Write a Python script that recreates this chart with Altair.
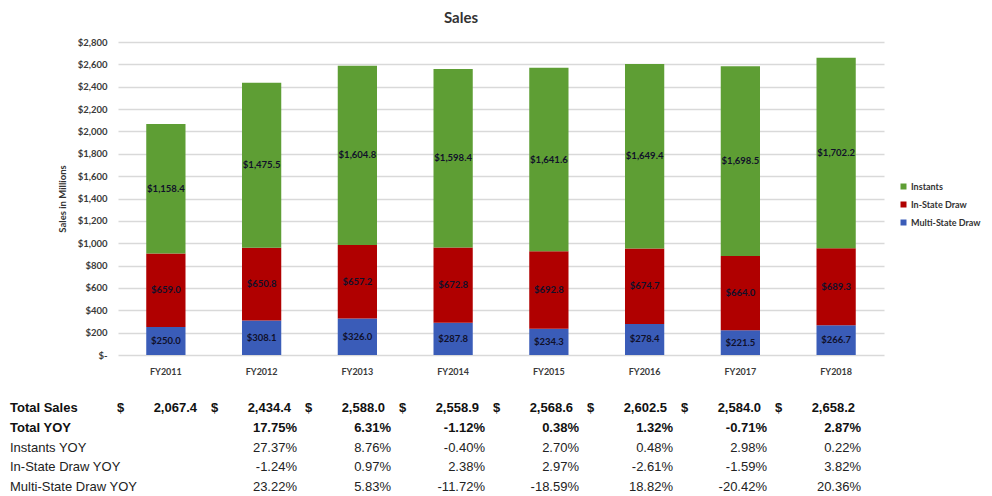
import altair as alt
import pandas as pd

years = ["FY2011", "FY2012", "FY2013", "FY2014", "FY2015", "FY2016", "FY2017", "FY2018"]
series = ["Instants", "In-State Draw", "Multi-State Draw"]
colors = ["#5E9E34", "#B00000", "#3A5CB8"]
instants = [1158.4, 1475.5, 1604.8, 1598.4, 1641.6, 1649.4, 1698.5, 1702.2]
in_state = [659.0, 650.8, 657.2, 672.8, 692.8, 674.7, 664.0, 689.3]
multi_state = [250.0, 308.1, 326.0, 287.8, 234.3, 278.4, 221.5, 266.7]

total_sales = [2067.4, 2434.4, 2588.0, 2558.9, 2568.6, 2602.5, 2584.0, 2658.2]
total_yoy = [None, 17.75, 6.31, -1.12, 0.38, 1.32, -0.71, 2.87]
instants_yoy = [None, 27.37, 8.76, -0.40, 2.70, 0.48, 2.98, 0.22]
instate_yoy = [None, -1.24, 0.97, 2.38, 2.97, -2.61, -1.59, 3.82]
multi_yoy = [None, 23.22, 5.83, -11.72, -18.59, 18.82, -20.42, 20.36]
row_names = ["Total Sales", "Total YOY", "Instants YOY", "In-State Draw YOY", "Multi-State Draw YOY"]
y_ticks = [0, 200, 400, 600, 800, 1000, 1200, 1400, 1600, 1800, 2000, 2200, 2400, 2600, 2800]
chart_title = "Sales"

# ---- bar data
recs = []
for i, y in enumerate(years):
    for s, vals, o in [("Multi-State Draw", multi_state, 0), ("In-State Draw", in_state, 1), ("Instants", instants, 2)]:
        recs.append({"year": y, "series": s, "value": vals[i], "ord": o})
bars_df = pd.DataFrame(recs)

# ---- table data
tab = []
for i in range(len(years)):
    tab.append({"col": i, "row": "Total Sales", "kind": "sales", "v": total_sales[i]})
    for rn, arr, kind in [("Total YOY", total_yoy, "yoyb"), ("Instants YOY", instants_yoy, "yoy"),
                          ("In-State Draw YOY", instate_yoy, "yoy"), ("Multi-State Draw YOY", multi_yoy, "yoy")]:
        if arr[i] is not None:
            tab.append({"col": i, "row": rn, "kind": kind, "v": arr[i]})
tab_df = pd.DataFrame(tab)
rows_df = pd.DataFrame({"row": row_names, "bold": [True, True, False, False, False]})

FONT = "Lato"
TFONT = "Liberation Sans"

x_scale = alt.Scale(paddingInner=0.59, paddingOuter=0.295)
x_axis = alt.Axis(labelFont=FONT, labelFontWeight="bold", labelFontSize=9, labelColor="#3a3a3a",
                  labelAngle=0, ticks=False, domain=False, labelPadding=12)
y_scale = alt.Scale(domain=[0, 2800], nice=False)
y_axis = alt.Axis(values=y_ticks, labelFont=FONT, labelFontWeight="bold",
                  labelFontSize=9.5, labelColor="#3a3a3a", ticks=False, domain=False,
                  labelPadding=11, labelOverlap=False, gridColor="#d9d9d9", gridWidth=1.5,
                  labelExpr="datum.value == 0 ? '$-' : '$' + format(datum.value, ',')",
                  titleFont=FONT, titleFontWeight="bold", titleFontSize=9.5, titleColor="#333333",
                  titlePadding=10)

bars = alt.Chart(bars_df).mark_bar().encode(
    x=alt.X("year:N", sort=years, title=None, scale=x_scale, axis=x_axis),
    y=alt.Y("value:Q", stack="zero", title="Sales in Millions", scale=y_scale, axis=y_axis),
    color=alt.Color("series:N", scale=alt.Scale(domain=series, range=colors),
                    legend=alt.Legend(title=None, orient="none", legendX=781, legendY=140,
                                      symbolType="square", symbolSize=36, symbolStrokeWidth=0,
                                      labelFont=FONT, labelFontWeight="bold", labelFontSize=9,
                                      labelColor="#333333", rowPadding=8, padding=0, labelOffset=3)),
    order=alt.Order("ord:Q", sort="ascending"),
)

labels = alt.Chart(bars_df).transform_stack(
    stack="value", groupby=["year"], as_=["v0", "v1"], sort=[alt.SortField("ord", order="ascending")]
).transform_calculate(
    mid="(datum.v0 + datum.v1) / 2",
    txt="'$' + format(datum.value, ',.1f')",
).mark_text(font=FONT, fontWeight="bold", fontSize=9.5, color="#10102a").encode(
    x=alt.X("year:N", sort=years, title=None, scale=x_scale, axis=x_axis),
    y=alt.Y("mid:Q", title="Sales in Millions", scale=y_scale, axis=y_axis),
    text="txt:N",
)

title = alt.Chart(pd.DataFrame({"t": [chart_title]})).mark_text(
    font=FONT, fontSize=15, fontWeight="bold", color="#333333", baseline="alphabetic", align="center"
).encode(x=alt.value(343), y=alt.value(-19), text="t:N")

plot = alt.layer(bars, labels, title)

tx = alt.X("col:Q", scale=alt.Scale(domain=[0, 7], range=[79, 737]), axis=None)
ty = alt.Y("row:N", scale=alt.Scale(type="point", domain=row_names, range=[366, 445], padding=0), axis=None)

row_bold = alt.Chart(rows_df).transform_filter("datum.bold").mark_text(
    font=TFONT, fontSize=13, fontWeight="bold", align="left", color="#111111").encode(
    x=alt.value(-108), y=ty, text="row:N")
row_norm = alt.Chart(rows_df).transform_filter("!datum.bold").mark_text(
    font=TFONT, fontSize=13, align="left", color="#222222").encode(
    x=alt.value(-108), y=ty, text="row:N")

pct_expr = "replace(format(datum.v, '.2f'), '\u2212', '-') + '%'"

sales_vals = alt.Chart(tab_df).transform_filter("datum.kind == 'sales'").transform_calculate(
    txt="format(datum.v, ',.1f')").mark_text(
    font=TFONT, fontSize=13, fontWeight="bold", align="right", color="#111111").encode(
    x=tx, y=ty, text="txt:N")
dollars = alt.Chart(tab_df).transform_filter("datum.kind == 'sales'").transform_calculate(
    txt="'$'").mark_text(
    font=TFONT, fontSize=13, fontWeight="bold", align="left", dx=-80, color="#111111").encode(
    x=tx, y=ty, text="txt:N")
yoy_b = alt.Chart(tab_df).transform_filter("datum.kind == 'yoyb'").transform_calculate(
    txt=pct_expr).mark_text(
    font=TFONT, fontSize=13, fontWeight="bold", align="right", dx=6, color="#111111").encode(
    x=tx, y=ty, text="txt:N")
yoy_n = alt.Chart(tab_df).transform_filter("datum.kind == 'yoy'").transform_calculate(
    txt=pct_expr).mark_text(
    font=TFONT, fontSize=13, align="right", dx=6, color="#222222").encode(
    x=tx, y=ty, text="txt:N")

table = alt.layer(row_bold, row_norm, sales_vals, dollars, yoy_b, yoy_n)

chart = alt.layer(plot, table).resolve_scale(x="independent", y="independent").properties(
    width=766, height=313,
    autosize=alt.AutoSizeParams(type="none"),
    padding={"left": 110, "top": 34, "right": 100, "bottom": 139},
).configure_view(stroke=None).configure_axis(labelOverlap=False)

chart.save("out.html", embed_options={"renderer": "svg", "actions": False})
